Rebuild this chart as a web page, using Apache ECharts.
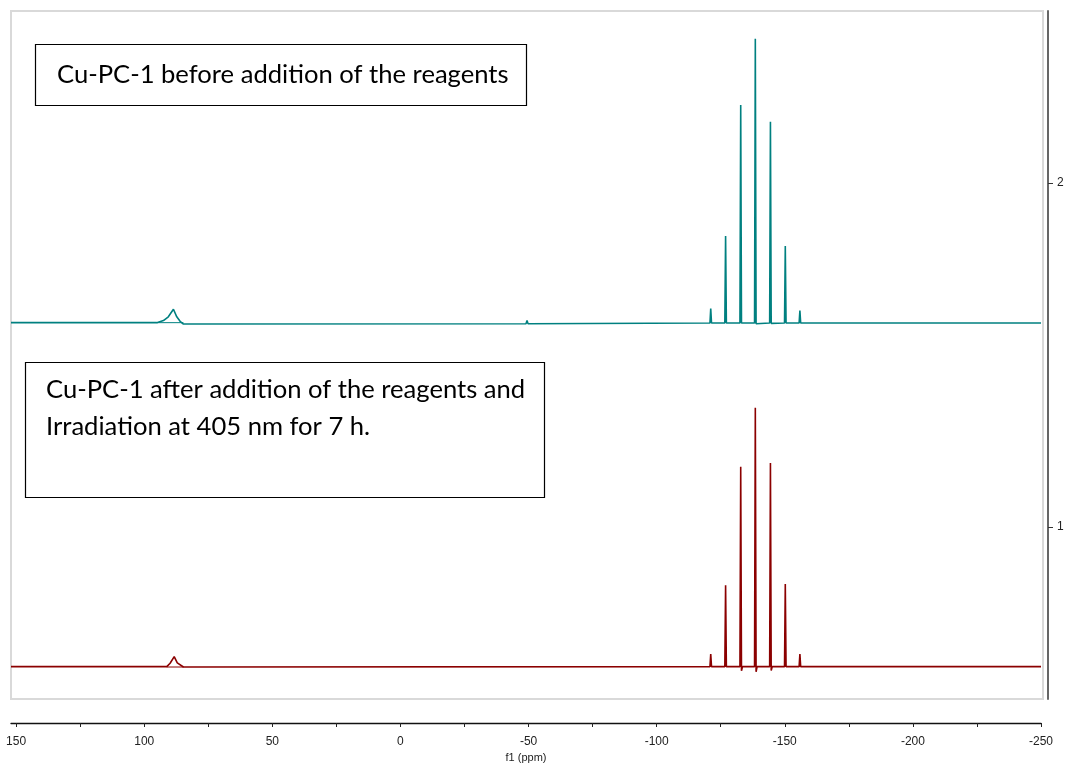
<!DOCTYPE html>
<html><head><meta charset="utf-8">
<script src="https://cdn.jsdelivr.net/npm/echarts@6/dist/echarts.min.js"></script>
<style>html,body{margin:0;padding:0;background:#fff}#c{width:1065px;height:763px}</style>
</head><body><div id="c"></div>
<script>
// Tick values
const xTickLabels = [150, 100, 50, 0, -50, -100, -150, -200, -250];
const xTickMarks = [150, 125, 100, 75, 50, 25, 0, -25, -50, -75, -100, -125, -150, -175, -200, -225, -250];
const yTickLabels = [1, 2];

// Upper spectrum (before addition) - chemical shift (ppm) and stacked intensity
const tealPpm = [152, 95.1, 92.5, 90.6, 88.6, 87.3, 86.0, 84.7, -49.0, -49.4, -49.8,
  -120.8, -121.1, -121.4, -126.6, -126.9, -127.2, -132.5, -132.8, -133.1,
  -138.2, -138.5, -138.8, -144.1, -144.4, -144.7, -149.9, -150.2, -150.5,
  -155.6, -155.9, -156.2, -250];
const tealInt = [1.594, 1.594, 1.600, 1.611, 1.633, 1.611, 1.598, 1.590, 1.591, 1.600, 1.591,
  1.593, 1.635, 1.593, 1.593, 1.846, 1.593, 1.593, 2.227, 1.593,
  1.593, 2.419, 1.591, 1.593, 2.178, 1.592, 1.593, 1.817, 1.593,
  1.593, 1.629, 1.593, 1.593];
const tealBasePpm = [95.1, 84.7];
const tealBaseInt = [1.594, 1.594];

// Lower spectrum (after irradiation)
const redPpm = [152, 91.2, 89.9, 88.3, 87.1, 84.7,
  -120.8, -121.1, -121.4, -126.6, -126.9, -127.2, -132.5, -132.8, -133.1, -133.5,
  -138.2, -138.5, -138.8, -139.2, -144.1, -144.4, -144.7, -145.1, -149.9, -150.2, -150.5,
  -155.6, -155.9, -156.2, -250];
const redInt = [0.594, 0.594, 0.604, 0.623, 0.605, 0.593,
  0.594, 0.631, 0.594, 0.594, 0.831, 0.594, 0.594, 1.175, 0.582, 0.594,
  0.594, 1.347, 0.579, 0.594, 0.594, 1.186, 0.583, 0.594, 0.594, 0.834, 0.594,
  0.594, 0.631, 0.594, 0.594];
const redBasePpm = [91.2, 84.7];
const redBaseInt = [0.593, 0.593];

const zip = (a, b) => a.map((v, i) => [v, b[i]]);

const TEAL = '#008080', RED = '#8b0000';
const chart = echarts.init(document.getElementById('c'), null, {renderer: 'canvas'});
const lineSeries = (name, data, color, w) => ({
  name, type: 'line', data, showSymbol: false, symbol: 'none', sampling: 'none',
  lineStyle: {color, width: w}, animation: false, z: 3
});

chart.setOption({
  animation: false,
  backgroundColor: '#fff',
  grid: {left: 11, right: 24, top: 11, bottom: 64, containLabel: false, outerBoundsMode: 'none'},
  xAxis: {
    type: 'value', inverse: true, min: -250, max: 152,
    position: 'bottom', offset: 24,
    name: 'f1 (ppm)', nameLocation: 'middle', nameGap: 28,
    nameTextStyle: {fontFamily: 'Liberation Sans', fontSize: 11, color: '#222'},
    axisLine: {show: true, onZero: false, lineStyle: {color: '#111', width: 1.3}},
    axisTick: {show: true, length: 4, customValues: xTickMarks, lineStyle: {color: '#222'}},
    axisLabel: {customValues: xTickLabels, margin: 13, fontFamily: 'Liberation Sans', fontSize: 12, color: '#222'},
    splitLine: {show: false}
  },
  yAxis: {
    type: 'value', min: 0.5, max: 2.5, position: 'right', offset: 7,
    axisLine: {show: true, onZero: false, lineStyle: {color: '#666', width: 2}},
    axisTick: {show: true, length: 5, customValues: yTickLabels, lineStyle: {color: '#333'}},
    axisLabel: {customValues: yTickLabels, margin: 9, fontFamily: 'Liberation Sans', fontSize: 12, color: '#222'},
    splitLine: {show: false}
  },
  graphic: [
    {type: 'rect', z: 0, shape: {x: 11, y: 11, width: 1032, height: 688},
     style: {fill: 'none', stroke: '#d9d9d9', lineWidth: 2}},
    {type: 'rect', z: 10, shape: {x: 35.5, y: 44.5, width: 491, height: 61},
     style: {fill: '#fff', stroke: '#000', lineWidth: 1.2}},
    {type: 'text', z: 11, x: 57, y: 75,
     style: {text: 'Cu-PC-1 before addition of the reagents', font: '25.6px Lato', fill: '#000', textVerticalAlign: 'middle'}},
    {type: 'rect', z: 10, shape: {x: 25.5, y: 362.5, width: 519, height: 135},
     style: {fill: '#fff', stroke: '#000', lineWidth: 1.2}},
    {type: 'text', z: 11, x: 46, y: 390,
     style: {text: 'Cu-PC-1 after addition of the reagents and', font: '25.6px Lato', fill: '#000', textVerticalAlign: 'middle'}},
    {type: 'text', z: 11, x: 46, y: 427,
     style: {text: 'Irradiation at 405 nm for 7 h.', font: '25.6px Lato', fill: '#000', textVerticalAlign: 'middle'}}
  ],
  series: [
    lineSeries('before', zip(tealPpm, tealInt), TEAL, 1.6),
    lineSeries('before-base', zip(tealBasePpm, tealBaseInt), TEAL, 1),
    lineSeries('after', zip(redPpm, redInt), RED, 1.6),
    lineSeries('after-base', zip(redBasePpm, redBaseInt), RED, 1)
  ]
});
</script></body></html>
